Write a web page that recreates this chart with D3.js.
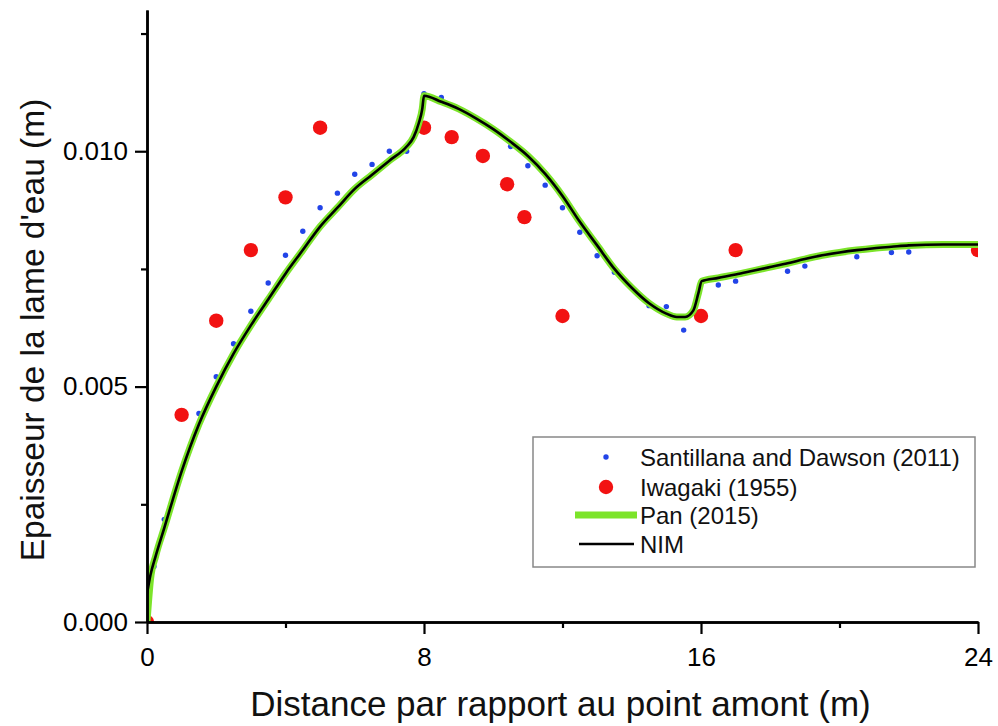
<!DOCTYPE html>
<html><head><meta charset="utf-8">
<script src="https://cdnjs.cloudflare.com/ajax/libs/d3/7.8.5/d3.min.js"></script>
<style>body{margin:0;background:#fff}svg{display:block}text{font-family:"Liberation Sans",Arial,sans-serif}</style>
</head><body><svg id="c" width="998" height="726"></svg>
<script>
// ---- data ----
const santX = [0.2,0.5,1.5,2.0,2.5,3.0,3.5,4.0,4.5,5.0,5.5,6.0,6.5,7.0,7.5,8.0,8.5,10.5,11.0,11.5,12.0,12.5,13.0,13.5,14.0,14.5,15.0,15.5,16.0,16.5,17.0,18.5,19.0,20.5,21.5,22.0];
const santY = [0.00118,0.00218,0.00443,0.00521,0.00591,0.0066,0.0072,0.00779,0.0083,0.0088,0.00911,0.00951,0.00972,0.0100,0.0100,0.01122,0.01114,0.0101,0.00969,0.00928,0.0088,0.00828,0.00778,0.00743,0.0071,0.00672,0.0067,0.0062,0.0072,0.00716,0.00724,0.00745,0.00756,0.00776,0.00785,0.00786];
const iwaX = [0,1,2,3,4,5,8,8.8,9.7,10.4,10.9,12,16,17,24];
const iwaY = [0,0.0044,0.0064,0.0079,0.00902,0.0105,0.0105,0.0103,0.0099,0.0093,0.0086,0.0065,0.0065,0.0079,0.0079];
const curveX = [0,0.1,0.25,0.5,1.0,1.5,2.0,2.5,3.0,3.5,4.0,4.5,5.0,5.5,6.0,6.5,7.0,7.5,7.7,7.85,7.95,8.0,8.5,9.0,9.5,10.0,10.5,11.0,11.5,12.0,12.5,13.0,13.5,14.0,14.5,15.0,15.3,15.54,15.78,15.93,16.02,16.5,17.0,17.5,18.0,18.5,19.0,19.5,20.0,20.5,21.0,21.5,22.0,23.0,24.0];
const panY = [0,0.0009,0.0014,0.0020,0.0032,0.0042,0.0050,0.0057,0.0063,0.00685,0.0074,0.0079,0.0084,0.0088,0.0092,0.0095,0.0098,0.0101,0.0103,0.0106,0.0109,0.01118,0.01105,0.0109,0.0107,0.01047,0.0102,0.0099,0.00952,0.00905,0.0085,0.0080,0.0075,0.0071,0.00677,0.00655,0.00648,0.00648,0.00662,0.0070,0.00724,0.00731,0.00738,0.00746,0.00754,0.00762,0.00771,0.00779,0.00785,0.0079,0.00794,0.00797,0.0080,0.00802,0.00802];
const nimY = [0.0006,0.0010,0.0014,0.0020,0.0032,0.0042,0.0050,0.0057,0.0063,0.00685,0.0074,0.0079,0.0084,0.0088,0.0092,0.0095,0.0098,0.0101,0.0103,0.0106,0.0109,0.01118,0.01105,0.0109,0.0107,0.01047,0.0102,0.0099,0.00952,0.00905,0.0085,0.0080,0.0075,0.0071,0.00677,0.00655,0.00648,0.00648,0.00662,0.0070,0.00724,0.00731,0.00738,0.00746,0.00754,0.00762,0.00771,0.00779,0.00785,0.0079,0.00794,0.00797,0.0080,0.00802,0.00802];
const xMajor = [0,8,16,24], xMinor = [4,12,20];
const yMajor = [0,0.005,0.010], yMinor = [0.0025,0.0075,0.0125];
const legendLabels = ["Santillana and Dawson (2011)","Iwagaki (1955)","Pan (2015)","NIM"];
const xTitle = "Distance par rapport au point amont (m)";
const yTitle = "Epaisseur de la lame d'eau (m)";

// ---- layout ----
const L=147,R=978,T=10,B=622;
const svg=d3.select("#c");
const x=d3.scaleLinear().domain([0,24]).range([L,R]);
const y=d3.scaleLinear().domain([0,0.013]).range([B,T]);
const cBlue="#2244e8", cRed="#f21212", cGreen="#7ce42a";

svg.append("clipPath").attr("id","pc").append("rect").attr("x",L).attr("y",T).attr("width",R-L).attr("height",B-T);
const g=svg.append("g").attr("clip-path","url(#pc)");

g.selectAll("circle.s").data(santX.map((v,i)=>[v,santY[i]])).enter().append("circle")
 .attr("cx",d=>x(d[0])).attr("cy",d=>y(d[1])).attr("r",2.7).attr("fill",cBlue);
g.selectAll("circle.i").data(iwaX.map((v,i)=>[v,iwaY[i]])).enter().append("circle")
 .attr("cx",d=>x(d[0])).attr("cy",d=>y(d[1])).attr("r",7.2).attr("fill",cRed);
const line=d3.line().x(d=>x(d[0])).y(d=>y(d[1])).curve(d3.curveMonotoneX);
g.append("path").datum(curveX.map((v,i)=>[v,panY[i]])).attr("d",line).attr("fill","none").attr("stroke",cGreen).attr("stroke-width",7).attr("stroke-linejoin","round");
g.append("path").datum(curveX.map((v,i)=>[v,nimY[i]])).attr("d",line).attr("fill","none").attr("stroke","#000").attr("stroke-width",2.6).attr("stroke-linejoin","round");

// axes
function styleAxis(sel){sel.select(".domain").attr("stroke","#000").attr("stroke-width",2.5);
 sel.selectAll(".tick line").attr("stroke","#000").attr("stroke-width",2.2);
 sel.selectAll("text").attr("font-size",26).attr("fill","#000").style("font-family","'Liberation Sans',Arial,sans-serif");}
const gx=svg.append("g").attr("transform",`translate(0,${B})`).call(d3.axisBottom(x).tickValues(xMajor).tickFormat(d3.format("d")).tickSize(12).tickSizeOuter(0).tickPadding(14));
styleAxis(gx);
const gxm=svg.append("g").attr("transform",`translate(0,${B})`).call(d3.axisBottom(x).tickValues(xMinor).tickFormat("").tickSize(6).tickSizeOuter(0));
styleAxis(gxm);
const gy=svg.append("g").attr("transform",`translate(${L},0)`).call(d3.axisLeft(y).tickValues(yMajor).tickFormat(d3.format(".3f")).tickSize(12).tickSizeOuter(0).tickPadding(7));
styleAxis(gy);
const gym=svg.append("g").attr("transform",`translate(${L},0)`).call(d3.axisLeft(y).tickValues(yMinor).tickFormat("").tickSize(6).tickSizeOuter(0));
styleAxis(gym);

svg.append("text").attr("x",(L+R)/2-2).attr("y",716).attr("text-anchor","middle").attr("font-size",35).attr("fill","#111").text(xTitle);
svg.append("text").attr("transform","translate(44,330) rotate(-90)").attr("text-anchor","middle").attr("font-size",33.5).attr("fill","#111").text(yTitle);

// legend
const lg=svg.append("g");
lg.append("rect").attr("x",533).attr("y",437).attr("width",442).attr("height",130).attr("fill","#fff").attr("stroke","#888").attr("stroke-width",1.5);
const rows=[457,487,515,544];
lg.append("circle").attr("cx",606).attr("cy",rows[0]).attr("r",2.7).attr("fill",cBlue);
lg.append("circle").attr("cx",606).attr("cy",rows[1]).attr("r",7.2).attr("fill",cRed);
lg.append("line").attr("x1",575).attr("x2",637).attr("y1",rows[2]).attr("y2",rows[2]).attr("stroke",cGreen).attr("stroke-width",7);
lg.append("line").attr("x1",579).attr("x2",634).attr("y1",rows[3]).attr("y2",rows[3]).attr("stroke","#000").attr("stroke-width",2.6);
legendLabels.forEach((t,i)=>lg.append("text").attr("x",640).attr("y",rows[i]).attr("dy","0.36em").attr("font-size",24).attr("fill","#111").text(t));
</script></body></html>
